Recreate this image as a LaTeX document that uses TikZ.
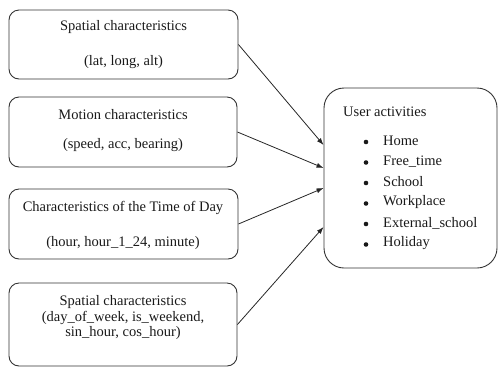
\documentclass[tikz,border=0pt]{standalone}
\usepackage{fontspec}
\setmainfont{Liberation Serif}
\usetikzlibrary{arrows.meta}
\tikzset{
  featbox/.style={draw=black!80, line width=0.9pt, rounded corners=10pt, inner sep=0pt},
  actbox/.style={draw=black!80, line width=0.9pt, rounded corners=20pt, inner sep=0pt},
  txt/.style={inner sep=0pt, font=\fontsize{14.5}{16}\selectfont, text=black!90},
  bulletdot/.style={circle, fill=black!90, inner sep=0pt, minimum size=4.6pt},
  link/.style={draw=black!85, line width=0.8pt, -{Latex[length=7pt,width=5pt]}}
}
\begin{document}
\begin{tikzpicture}[x=1pt,y=-1pt]
\useasboundingbox (0,0) rectangle (498,368);
% feature boxes
\node[featbox, minimum width=229pt, minimum height=69pt] (b1) at (123.5,44.5) {};
\node[featbox, minimum width=228pt, minimum height=70pt] (b2) at (123,132) {};
\node[featbox, minimum width=229pt, minimum height=70pt] (b3) at (123.5,224) {};
\node[featbox, minimum width=228pt, minimum height=83pt] (b4) at (123,324.5) {};
% activity box
\node[actbox, minimum width=173pt, minimum height=180pt] (ua) at (410.5,178) {};
% texts
\node[txt] (t1a) at (123.5,27) {Spatial characteristics};
\node[txt] (t1b) at (123.5,62) {(lat, long, alt)};
\node[txt] (t2a) at (123,115) {Motion characteristics};
\node[txt] (t2b) at (123,145) {(speed, acc, bearing)};
\node[txt] (t3a) at (123,208) {Characteristics of the Time of Day};
\node[txt] (t3b) at (123,243) {(hour, hour\_1\_24, minute)};
\node[txt] (t4a) at (123,302) {Spatial characteristics};
\node[txt] (t4b) at (123,317.5) {(day\_of\_week, is\_weekend,};
\node[txt] (t4c) at (123,333) {sin\_hour, cos\_hour)};
\node[txt, anchor=west] (uat) at (343,112) {User activities};
\foreach \i/\lab/\yy in {1/Home/141, 2/Free\_time/161.5, 3/School/182, 4/Workplace/202.5, 5/External\_school/223, 6/Holiday/243.5}{
  \node[bulletdot] (bul\i) at (366,\yy+1) {};
  \node[txt, anchor=west] (it\i) at (383,\yy) {\lab};
}
% connectors
\draw[link] (b1.east) -- ([yshift=33pt]ua.west);
\draw[link] (b2.east) -- ([yshift=10pt]ua.west);
\draw[link] (b3.east) -- ([yshift=-10pt]ua.west);
\draw[link] (b4.east) -- ([yshift=-49pt]ua.west);
\end{tikzpicture}
\end{document}
